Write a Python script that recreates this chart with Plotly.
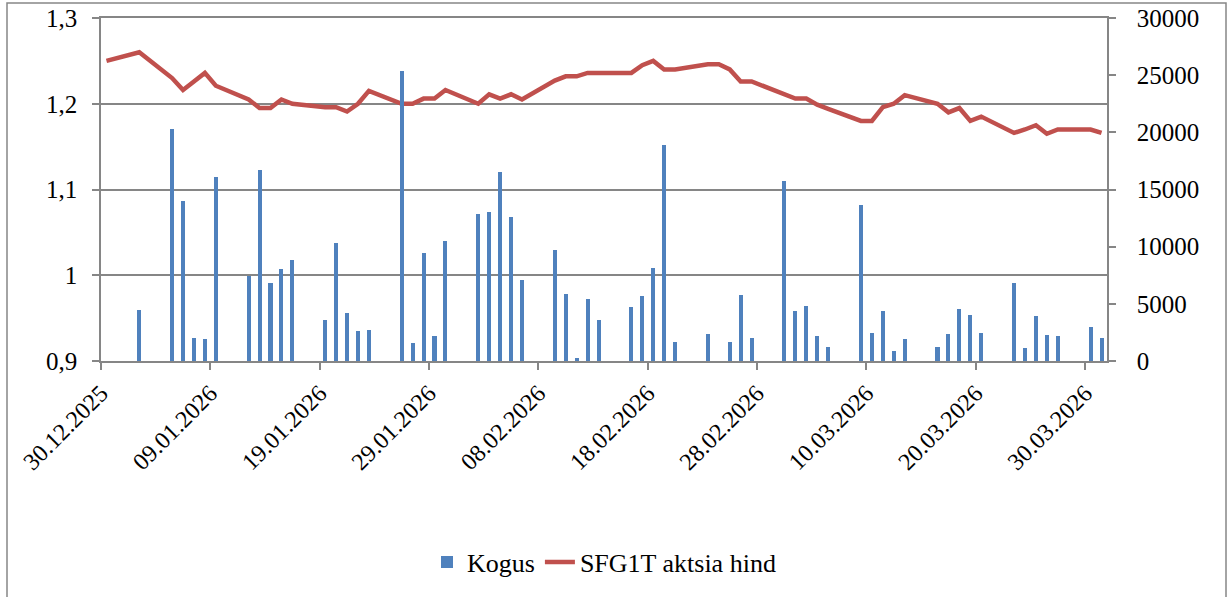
import plotly.graph_objects as go

dates = ["2025-12-30", "2026-01-02", "2026-01-05", "2026-01-06", "2026-01-07", "2026-01-08",
         "2026-01-09", "2026-01-12", "2026-01-13", "2026-01-14", "2026-01-15", "2026-01-16",
         "2026-01-19", "2026-01-20", "2026-01-21", "2026-01-22", "2026-01-23", "2026-01-26",
         "2026-01-27", "2026-01-28", "2026-01-29", "2026-01-30", "2026-02-02", "2026-02-03",
         "2026-02-04", "2026-02-05", "2026-02-06", "2026-02-09", "2026-02-10", "2026-02-11",
         "2026-02-12", "2026-02-13", "2026-02-16", "2026-02-17", "2026-02-18", "2026-02-19",
         "2026-02-20", "2026-02-23", "2026-02-24", "2026-02-25", "2026-02-26", "2026-02-27",
         "2026-03-02", "2026-03-03", "2026-03-04", "2026-03-05", "2026-03-06", "2026-03-09",
         "2026-03-10", "2026-03-11", "2026-03-12", "2026-03-13", "2026-03-16", "2026-03-17",
         "2026-03-18", "2026-03-19", "2026-03-20", "2026-03-23", "2026-03-24", "2026-03-25",
         "2026-03-26", "2026-03-27", "2026-03-30", "2026-03-31"]

kogus = [0, 4460, 20270, 14020, 1990, 1900,
         16070, 7430, 16680, 6850, 8020, 8810,
         3590, 10320, 4230, 2650, 2710, 25390,
         1600, 9420, 2190, 10500, 12830, 13030,
         16500, 12590, 7080, 9680, 5830, 290,
         5420, 3590, 4690, 5690, 8100, 18860,
         1660, 2360, 0, 1690, 5770, 2010,
         15710, 4340, 4810, 2220, 1220, 13640,
         2450, 4370, 850, 1920, 1220, 2360,
         4520, 4050, 2450, 6790, 1170, 3910,
         2270, 2220, 2970, 2040]

hind = [1.250, 1.260, 1.230, 1.216, 1.226, 1.236,
        1.221, 1.205, 1.195, 1.195, 1.205, 1.200,
        1.196, 1.196, 1.191, 1.200, 1.215, 1.200,
        1.200, 1.206, 1.206, 1.216, 1.200, 1.211,
        1.206, 1.211, 1.205, 1.227, 1.232, 1.232,
        1.236, 1.236, 1.236, 1.245, 1.250, 1.240,
        1.240, 1.246, 1.246, 1.240, 1.226, 1.226,
        1.211, 1.206, 1.206, 1.199, 1.194, 1.180,
        1.180, 1.196, 1.200, 1.210, 1.200, 1.190,
        1.195, 1.180, 1.185, 1.166, 1.170, 1.175,
        1.165, 1.170, 1.170, 1.166]

price_ticks = [0.9, 1.0, 1.1, 1.2, 1.3]
price_tick_labels = ["0,9", "1", "1,1", "1,2", "1,3"]
volume_ticks = [0, 5000, 10000, 15000, 20000, 25000, 30000]
volume_tick_labels = ["0", "5000", "10000", "15000", "20000", "25000", "30000"]

DAY = 86400000
FONT = "Liberation Serif"
GRID = "#868686"

fig = go.Figure()
fig.add_trace(go.Bar(
    x=dates, y=kogus, name="Kogus", yaxis="y2",
    marker=dict(color="#4F81BD", line=dict(width=0)),
    width=0.37 * DAY, xperiod=DAY, xperiodalignment="middle",
))
fig.add_trace(go.Scatter(
    x=dates, y=hind, name="SFG1T aktsia hind", mode="lines",
    line=dict(color="#C0504D", width=4.5), xperiod=DAY, xperiodalignment="middle",
))

fig.update_layout(
    width=1228, height=597,
    margin=dict(l=101, r=121, t=18, b=236),
    paper_bgcolor="white", plot_bgcolor="white",
    font=dict(family=FONT, size=25, color="black"),
    showlegend=True,
    legend=dict(orientation="h", x=0.5, xanchor="center", y=-0.586, yanchor="middle",
                font=dict(family=FONT, size=26), traceorder="normal"),
    bargap=0,
    xaxis=dict(
        type="date", range=["2025-12-30", "2026-04-01"],
        tick0="2025-12-30", dtick=10 * DAY, tickformat="%d.%m.%Y", tickangle=-45,
        showgrid=False, showline=True, linecolor=GRID, linewidth=1.5, mirror=True,
        ticks="outside", ticklen=7, tickcolor=GRID, tickwidth=1.5,
        automargin=False, tickfont=dict(family=FONT, size=24),
    ),
    yaxis=dict(
        range=[0.9, 1.3], tickvals=price_ticks, ticktext=price_tick_labels,
        showgrid=True, gridcolor=GRID, gridwidth=1.5, zeroline=False,
        showline=True, linecolor=GRID, linewidth=1.5,
        ticks="outside", ticklen=7, tickcolor=GRID, tickwidth=1.5,
        automargin=False, ticklabelstandoff=10, tickfont=dict(family=FONT, size=25),
    ),
    yaxis2=dict(
        range=[0, 30000], tickvals=volume_ticks, ticktext=volume_tick_labels,
        overlaying="y", side="right", showgrid=False, zeroline=False,
        showline=True, linecolor=GRID, linewidth=1.5,
        ticks="outside", ticklen=7, tickcolor=GRID, tickwidth=1.5,
        automargin=False, ticklabelstandoff=16, tickfont=dict(family=FONT, size=25),
    ),
    shapes=[dict(type="rect", xref="paper", yref="paper",
                 x0=(7 - 101) / 1006, x1=(1226 - 101) / 1006,
                 y0=(361 - 640) / 343, y1=1 + (18 - 3) / 343,
                 line=dict(color=GRID, width=1.5), fillcolor="rgba(0,0,0,0)", layer="below")],
)

fig.write_html("out.html", config={"displayModeBar": False},
               post_script="document.body.style.margin='0';")
